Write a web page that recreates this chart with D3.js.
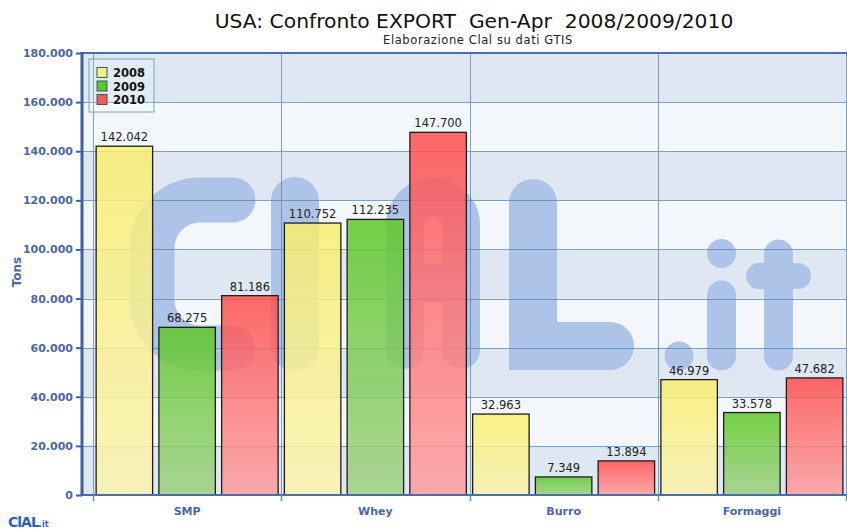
<!DOCTYPE html>
<html>
<head>
<meta charset="utf-8">
<script src="https://cdn.jsdelivr.net/npm/d3@7"></script>
<style>
  html, body { margin: 0; padding: 0; background: #ffffff; }
  svg { display: block; }
  text { font-family: "DejaVu Sans", Verdana, sans-serif; }
</style>
</head>
<body>
<svg id="chart" width="847" height="532"></svg>
<script>
// ---- data ----
const categories = ["SMP", "Whey", "Burro", "Formaggi"];
const years = ["2008", "2009", "2010"];
const values2008 = [142042, 110752, 32963, 46979];
const values2009 = [68275, 112235, 7349, 33578];
const values2010 = [81186, 147700, 13894, 47682];
const yTicks = [0, 20000, 40000, 60000, 80000, 100000, 120000, 140000, 160000, 180000];
const titleText = "USA: Confronto EXPORT  Gen-Apr  2008/2009/2010";
const subtitleText = "Elaborazione Clal su dati GTIS";
const yAxisTitle = "Tons";

const seriesValues = [values2008, values2009, values2010];
const colorsTop = ["#f9ee6c", "#5cc824", "#ff4c4c"];
const colorsBottom = ["#fbf3ad", "#9fd081", "#ff9d9d"];
const swatch = ["#f7ef7e", "#5cc533", "#f55a5a"];

const svg = d3.select("#chart");
const plotL = 82, plotR = 847, plotT = 53, plotB = 495;
const catL = 93, catR = 846;

const locale = d3.formatLocale({ decimal: ",", thousands: ".", grouping: [3], currency: ["", ""] });
const fmt = locale.format(",d");

const y = d3.scaleLinear().domain([0, 180000]).range([plotB, plotT]);
const x0 = d3.scaleBand().domain(categories).range([catL, catR]).padding(0);
const x1 = d3.scaleBand().domain(years).range([0, x0.bandwidth()]).paddingInner(0.1).paddingOuter(0.05);

// gradients
const defs = svg.append("defs");
years.forEach((yr, i) => {
  const g = defs.append("linearGradient").attr("id", "grad" + i)
    .attr("x1", 0).attr("y1", 0).attr("x2", 0).attr("y2", 1);
  g.append("stop").attr("offset", "0%").attr("stop-color", colorsTop[i]);
  g.append("stop").attr("offset", "100%").attr("stop-color", colorsBottom[i]);
});

// bands
const bandG = svg.append("g");
for (let i = 0; i < yTicks.length - 1; i++) {
  bandG.append("rect")
    .attr("x", plotL).attr("width", plotR - plotL)
    .attr("y", y(yTicks[i + 1])).attr("height", y(yTicks[i]) - y(yTicks[i + 1]))
    .attr("fill", i % 2 === 0 ? "#dfe7f3" : "#f3f6fb");
}

// watermark (logo)
const wmColor = "#aec3e8";
const wm = svg.append("g").attr("fill", "none").attr("stroke", wmColor).attr("stroke-linecap", "round").attr("stroke-linejoin", "round");
wm.append("path").attr("stroke-width", 45)
  .attr("d", "M233,200 H200 A48,48 0 0 0 152,248 V300 A48,48 0 0 0 200,348 H233");
wm.append("path").attr("stroke-width", 48).attr("d", "M295,201 V347");
wm.append("path").attr("stroke-width", 38).attr("d", "M405,350 V225 A28,28 0 0 1 461,225 V350 M405,283 H461");
wm.append("path").attr("stroke-width", 48).attr("stroke-linejoin", "miter")
  .attr("d", "M533,203 V346 H610");
wm.append("path").attr("stroke-width", 29).attr("d", "M721.5,295 V356");
wm.append("path").attr("stroke-width", 29).attr("d", "M778.5,254 V356");
wm.append("path").attr("stroke-width", 26).attr("d", "M759,276 H798");
wm.append("circle").attr("cx", 679).attr("cy", 356).attr("r", 14.5).attr("fill", wmColor).attr("stroke", "none");
wm.append("circle").attr("cx", 721.5).attr("cy", 253.5).attr("r", 14.5).attr("fill", wmColor).attr("stroke", "none");

// grid lines
const gridG = svg.append("g").attr("stroke", "#5b8db6").attr("stroke-width", 1).attr("opacity", 0.8);
yTicks.slice(1, -1).forEach(t => {
  gridG.append("line").attr("x1", plotL).attr("x2", plotR)
    .attr("y1", Math.round(y(t)) + 0.5).attr("y2", Math.round(y(t)) + 0.5);
});
const bounds = categories.map(c => x0(c)).concat([catR]);
bounds.forEach(b => {
  gridG.append("line").attr("x1", Math.round(b) + 0.5).attr("x2", Math.round(b) + 0.5)
    .attr("y1", plotT).attr("y2", plotB);
});

// bars
const barG = svg.append("g");
categories.forEach((c, ci) => {
  years.forEach((yr, si) => {
    const v = seriesValues[si][ci];
    const bx = x0(c) + x1(yr);
    barG.append("rect")
      .attr("x", bx).attr("y", y(v))
      .attr("width", x1.bandwidth()).attr("height", y(0) - y(v))
      .attr("fill", "url(#grad" + si + ")")
      .attr("fill-opacity", 0.84)
      .attr("stroke", "#1e1e1e").attr("stroke-width", 1.3);
    barG.append("text")
      .attr("x", bx + x1.bandwidth() / 2).attr("y", y(v) - 5)
      .attr("text-anchor", "middle").attr("font-size", "11.5px").attr("fill", "#222")
      .text(fmt(v));
  });
});

// axes lines
const axisColor = "#3f609e";
svg.append("line").attr("x1", plotL).attr("x2", plotR).attr("y1", plotT).attr("y2", plotT)
  .attr("stroke", "#4a6fa8").attr("stroke-width", 2);
svg.append("line").attr("x1", plotL).attr("x2", plotR).attr("y1", plotB).attr("y2", plotB)
  .attr("stroke", "#4a6fa8").attr("stroke-width", 2);

// y axis via d3
const yAxis = d3.axisLeft(y).tickValues(yTicks).tickFormat(fmt).tickSize(6).tickPadding(3);
const yG = svg.append("g").attr("transform", `translate(${plotL},0)`).call(yAxis);
yG.select(".domain").remove();
yG.selectAll(".tick line").attr("stroke", axisColor).attr("stroke-width", 2);
yG.selectAll(".tick text").attr("fill", "#4a68a0").attr("font-size", "11px").attr("font-weight", "bold")
  .attr("font-family", "DejaVu Sans, sans-serif");
svg.append("line").attr("x1", plotL).attr("x2", plotL).attr("y1", plotT - 1).attr("y2", plotB + 1)
  .attr("stroke", axisColor).attr("stroke-width", 3);

// x ticks & labels
bounds.forEach(b => {
  svg.append("line").attr("x1", Math.round(b) + 0.5).attr("x2", Math.round(b) + 0.5)
    .attr("y1", plotB).attr("y2", plotB + 6).attr("stroke", "#6b8cbf").attr("stroke-width", 1.5);
});
categories.forEach(c => {
  svg.append("text").attr("x", x0(c) + x0.bandwidth() / 2).attr("y", 515)
    .attr("text-anchor", "middle").attr("font-size", "11px").attr("font-weight", "bold")
    .attr("fill", "#4a68a0").text(c);
});

// y axis title
svg.append("text").attr("transform", "translate(21,272) rotate(-90)")
  .attr("text-anchor", "middle").attr("font-size", "12px").attr("font-weight", "bold")
  .attr("fill", "#4a68a0").text(yAxisTitle);

// title
svg.append("text").attr("x", 474).attr("y", 28).attr("text-anchor", "middle")
  .attr("font-size", "20.3px").attr("fill", "#111").style("white-space", "pre").text(titleText);
svg.append("text").attr("x", 478).attr("y", 44).attr("text-anchor", "middle")
  .attr("font-size", "11.5px").attr("letter-spacing", "0.6px").attr("fill", "#222").text(subtitleText);

// legend
const leg = svg.append("g").attr("transform", "translate(89,59)");
leg.append("rect").attr("x", 0).attr("y", 0).attr("width", 65).attr("height", 53)
  .attr("fill", "#ffffff").attr("fill-opacity", 0.15).attr("stroke", "#6ea6c0").attr("stroke-width", 1);
years.forEach((yr, i) => {
  const ly = 8.5 + i * 13.5;
  leg.append("rect").attr("x", 8).attr("y", ly).attr("width", 10).attr("height", 10)
    .attr("fill", swatch[i]).attr("stroke", "#2f5f60").attr("stroke-width", 1);
  leg.append("text").attr("x", 24).attr("y", ly + 9.5).attr("font-size", "11.5px").attr("font-weight", "bold")
    .attr("fill", "#111").text(yr);
});

// small logo bottom-left
const logo = svg.append("text").attr("x", 8).attr("y", 527).attr("fill", "#2d5fb4").attr("font-weight", "bold");
logo.append("tspan").attr("font-size", "14px").attr("letter-spacing", "-1px").text("ClAL");
logo.append("tspan").attr("font-size", "8px").text(".it");
</script>
</body>
</html>
